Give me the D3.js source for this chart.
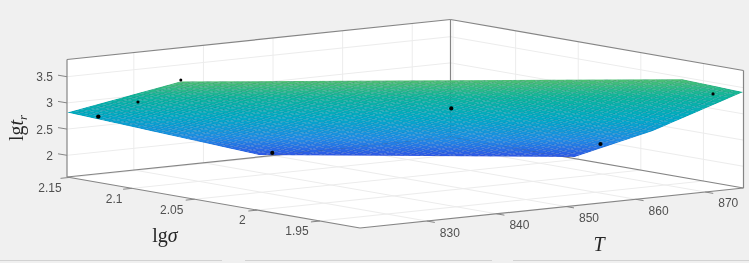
<!DOCTYPE html>
<html>
<head>
<meta charset="utf-8">
<script src="https://cdn.jsdelivr.net/npm/d3@7"></script>
<style>
  html, body { margin: 0; padding: 0; background: #f0f0f0; }
  svg { display: block; filter: blur(0.45px); }
  .tick { font-family: "Liberation Sans", sans-serif; font-size: 12px; fill: #505050; }
  .label { font-family: "Liberation Serif", serif; font-size: 20px; fill: #262626; }
</style>
</head>
<body>
<div id="holder"></div>
<script>
const w = 749;
const h = 263;

// AXIS LIMITS AND TICKS
const tLim = [820.4, 875.5];
const sigmaLim = [1.918, 2.152];
const zLim = [1.586, 3.828];
const tTicks = [830, 840, 850, 860, 870];
const sigmaTicks = [1.95, 2, 2.05, 2.1, 2.15];
const zTicks = [2, 2.5, 3, 3.5];

// MEASURED POINTS
const dotT = [824.0, 823.4, 821.1, 852.4, 875.1, 873.1, 848.1];
const dotSigma = [2.147, 2.112, 2.065, 2.023, 2.030, 1.929, 2.142];
const dotZ = [2.709, 3.142, 3.790, 2.987, 1.965, 3.368, 1.703];
const dotR = [2.2, 1.6, 1.5, 2.1, 2.1, 1.6, 2.1];

// SURFACE: z at the grid knots, rows by sigma, columns by T
const surfaceT = [820.4, 847.95, 875.5];
const surfaceSigma = [1.918, 1.9903, 2.152];
const surfaceZ = [
    [5.326, 4.572, 3.418],
    [4.550, 3.581, 2.373],
    [2.817, 1.624, 0.413]
];

// OUTLINE OF THE VISIBLE SURFACE
const hullT = [820.4, 820.4, 866.8, 875.5, 875.5, 875.5, 847.95];
const hullSigma = [2.152, 2.0617, 1.918, 1.918, 1.9903, 2.0526, 2.152];
const hullZ = [2.817, 3.783, 3.783, 3.418, 2.373, 1.618, 1.624];

const svg = d3.select("#holder")
    .append("svg")
    .attr("width", w)
    .attr("height", h);

// PROJECTION: each data axis moves the point along its own screen direction
const front = [360, 228];
const tX = d3.scaleLinear().domain(tLim).range([0, 383.5]);
const tY = d3.scaleLinear().domain(tLim).range([0, -40]);
const sigmaX = d3.scaleLinear().domain(sigmaLim).range([0, -293]);
const sigmaY = d3.scaleLinear().domain(sigmaLim).range([0, -51]);
const zY = d3.scaleLinear().domain(zLim).range([0, -117.5]);

function project(t, s, z) {
    return [
        front[0] + tX(t) + sigmaX(s),
        front[1] + tY(t) + sigmaY(s) + zY(z)
    ];
}

const line = d3.line();
const [tMin, tMax] = tLim;
const [sMin, sMax] = sigmaLim;
const [zMin, zMax] = zLim;

// bottom strip of the page
svg.selectAll(".strip")
    .data([[0, 222], [245, 492], [513, 749]])
    .enter()
    .append("line")
    .attr("x1", d => d[0])
    .attr("x2", d => d[1])
    .attr("y1", 260.5)
    .attr("y2", 260.5)
    .attr("stroke", "#d2d2d2")
    .attr("stroke-width", 1);

// WALLS AND FLOOR
svg.append("path")
    .attr("d", line([
        project(tMin, sMax, zMin),
        project(tMin, sMax, zMax),
        project(tMax, sMax, zMax),
        project(tMax, sMin, zMax),
        project(tMax, sMin, zMin),
        project(tMin, sMin, zMin)
    ]) + "Z")
    .attr("fill", "#fff");

// GRID
const grid = [];
tTicks.forEach(t => {
    grid.push([project(t, sMin, zMin), project(t, sMax, zMin)]);
    grid.push([project(t, sMax, zMin), project(t, sMax, zMax)]);
});
sigmaTicks.forEach(s => {
    grid.push([project(tMin, s, zMin), project(tMax, s, zMin)]);
    grid.push([project(tMax, s, zMin), project(tMax, s, zMax)]);
});
zTicks.forEach(z => {
    grid.push([project(tMin, sMax, z), project(tMax, sMax, z)]);
    grid.push([project(tMax, sMax, z), project(tMax, sMin, z)]);
});
svg.append("g").selectAll("path")
    .data(grid)
    .enter()
    .append("path")
    .attr("d", d => line(d))
    .attr("fill", "none")
    .attr("stroke", "#ececec")
    .attr("stroke-width", 1);

// BOX
const box = [
    [project(tMin, sMax, zMin), project(tMin, sMax, zMax)],
    [project(tMin, sMax, zMax), project(tMax, sMax, zMax)],
    [project(tMax, sMax, zMax), project(tMax, sMin, zMax)],
    [project(tMax, sMin, zMax), project(tMax, sMin, zMin)],
    [project(tMax, sMax, zMin), project(tMax, sMax, zMax)],
    [project(tMin, sMax, zMin), project(tMax, sMax, zMin)],
    [project(tMax, sMax, zMin), project(tMax, sMin, zMin)],
    [project(tMin, sMax, zMin), project(tMin, sMin, zMin)],
    [project(tMin, sMin, zMin), project(tMax, sMin, zMin)]
];
svg.append("g").selectAll("path")
    .data(box)
    .enter()
    .append("path")
    .attr("d", d => line(d))
    .attr("fill", "none")
    .attr("stroke", "#858585")
    .attr("stroke-width", 1.2);

// SURFACE
svg.append("clipPath")
    .attr("id", "hull")
    .append("path")
    .attr("d", line(hullT.map((t, i) => project(t, hullSigma[i], hullZ[i]))) + "Z");

const color = d3.scaleLinear()
    .domain([1.6, 2.1, 2.7, 3.3, 3.8])
    .range(["#2f55e6", "#1f8ce6", "#00aac6", "#0cb59c", "#50c070"])
    .clamp(true);

// facets of the surface between its knot values
const cells = 45;
const rows = d3.scaleLinear().domain([0, cells]).range(sigmaLim);
const cols = d3.scaleLinear().domain([0, cells]).range(tLim);

function surfaceAt(t, s) {
    const j = Math.min(d3.bisectRight(surfaceT, t) - 1, surfaceT.length - 2);
    const i = Math.min(d3.bisectRight(surfaceSigma, s) - 1, surfaceSigma.length - 2);
    const u = (t - surfaceT[j]) / (surfaceT[j + 1] - surfaceT[j]);
    const v = (s - surfaceSigma[i]) / (surfaceSigma[i + 1] - surfaceSigma[i]);
    const low = surfaceZ[i][j] + u * (surfaceZ[i][j + 1] - surfaceZ[i][j]);
    const high = surfaceZ[i + 1][j] + u * (surfaceZ[i + 1][j + 1] - surfaceZ[i + 1][j]);
    return low + v * (high - low);
}

const facets = [];
d3.range(cells).forEach(i => {
    d3.range(cells).forEach(j => {
        facets.push([
            [cols(j), rows(i)],
            [cols(j + 1), rows(i)],
            [cols(j + 1), rows(i + 1)],
            [cols(j), rows(i + 1)]
        ]);
    });
});

svg.append("g")
    .attr("clip-path", "url(#hull)")
    .selectAll("path")
    .data(facets)
    .enter()
    .append("path")
    .attr("d", d => line(d.map(p => project(p[0], p[1], surfaceAt(p[0], p[1])))) + "Z")
    .attr("fill", d => color(d3.mean(d, p => surfaceAt(p[0], p[1]))))
    .attr("stroke", "#103a70")
    .attr("stroke-opacity", 0.18)
    .attr("stroke-width", 0.5);

// POINTS
svg.append("g").selectAll("circle")
    .data(dotT)
    .enter()
    .append("circle")
    .attr("cx", (d, i) => project(d, dotSigma[i], dotZ[i])[0])
    .attr("cy", (d, i) => project(d, dotSigma[i], dotZ[i])[1])
    .attr("r", (d, i) => dotR[i])
    .attr("fill", "#000");

// TICKS
const tickMarks = [];
zTicks.forEach(z => {
    const p = project(tMin, sMax, z);
    tickMarks.push([p, [p[0] - 9, p[1] - 1.5]]);
});
sigmaTicks.forEach(s => {
    const p = project(tMin, s, zMin);
    tickMarks.push([p, [p[0] - 9, p[1] + 0.9]]);
});
tTicks.forEach(t => {
    const p = project(t, sMin, zMin);
    tickMarks.push([p, [p[0] + 8, p[1] + 1.4]]);
});
svg.append("g").selectAll("path")
    .data(tickMarks)
    .enter()
    .append("path")
    .attr("d", d => line(d))
    .attr("fill", "none")
    .attr("stroke", "#858585")
    .attr("stroke-width", 1);

function addTick(text, p, dx, dy, anchor) {
    svg.append("text")
        .attr("class", "tick")
        .attr("x", p[0] + dx)
        .attr("y", p[1] + dy)
        .attr("text-anchor", anchor)
        .text(text);
}
// sigma labels sit unevenly along their axis
const sigmaLabelDx = [-23, -15, -23, -18, -19.5];
zTicks.forEach(z => addTick(d3.format("")(z), project(tMin, sMax, z), -14, 4.5, "end"));
sigmaTicks.forEach((s, i) => addTick(d3.format("")(s), project(tMin, s, zMin), sigmaLabelDx[i], 14.3, "middle"));
tTicks.forEach(t => addTick(d3.format("")(t), project(t, sMin, zMin), 23, 15.5, "middle"));

// AXIS LABELS
const sigmaLabel = svg.append("text")
    .attr("class", "label")
    .attr("x", 165)
    .attr("y", 242)
    .attr("text-anchor", "middle");
sigmaLabel.append("tspan").text("lg");
sigmaLabel.append("tspan").style("font-style", "italic").text("σ");

svg.append("text")
    .attr("class", "label")
    .attr("x", 599)
    .attr("y", 251)
    .attr("text-anchor", "middle")
    .style("font-style", "italic")
    .text("T");

const zLabel = svg.append("text")
    .attr("class", "label")
    .attr("transform", "translate(23,141) rotate(-90)");
zLabel.append("tspan").text("lg");
zLabel.append("tspan").style("font-style", "italic").text("t");
zLabel.append("tspan")
    .style("font-style", "italic")
    .style("font-size", "13px")
    .attr("dy", 4)
    .text("r");
</script>
</body>
</html>
